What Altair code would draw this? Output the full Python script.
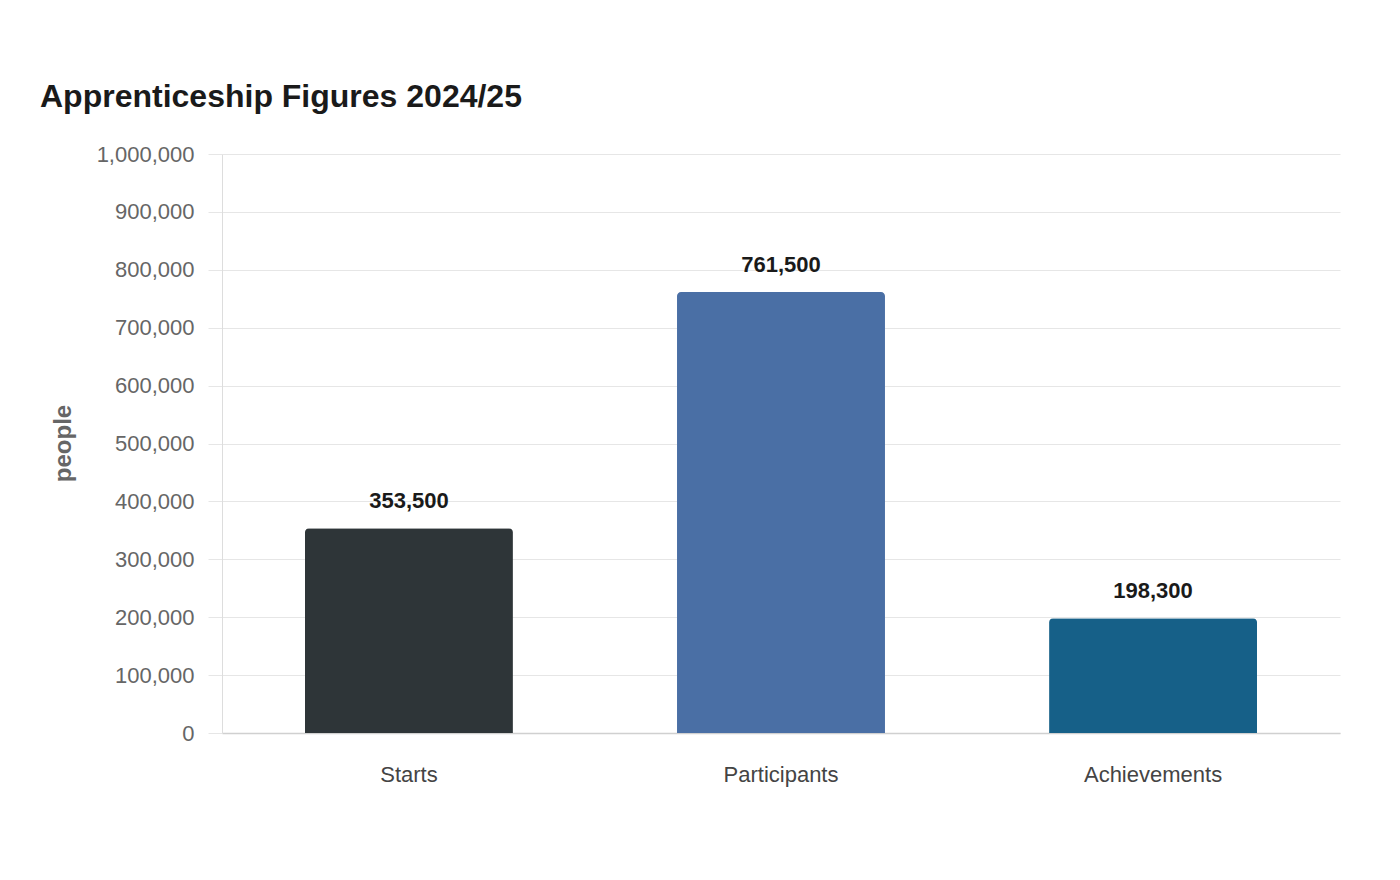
import altair as alt
import pandas as pd

# Apprenticeship headline figures, 2024/25
categories = ["Starts", "Participants", "Achievements"]
values = [353500, 761500, 198300]
colors = ["#2e3538", "#4a6fa5", "#166088"]

df = pd.DataFrame({"category": categories, "people": values})
df["label"] = df["people"].map(lambda v: f"{v:,}")

x_enc = alt.X(
    "category:N",
    sort=categories,
    title=None,
    scale=alt.Scale(paddingInner=0.441, paddingOuter=0.223),
    axis=alt.Axis(
        labelAngle=0,
        labelFontSize=22,
        labelColor="#444444",
        labelPadding=31,
        ticks=False,
        domainColor="#d0d0d0",
        domainWidth=1.5,
        grid=False,
    ),
)

y_enc = alt.Y(
    "people:Q",
    title="people",
    scale=alt.Scale(domain=[0, 1000000], nice=False),
    axis=alt.Axis(
        values=list(range(0, 1000001, 100000)),
        format=",.0f",
        labelFontSize=22,
        labelColor="#666666",
        labelPadding=14,
        tickSize=14,
        tickColor="#e6e6e6",
        domainColor="#dddddd",
        gridColor="#e6e6e6",
        titleFontSize=24,
        titleFontWeight="bold",
        titleColor="#666666",
        titleAngle=-90,
        titleAlign="center",
        titleBaseline="middle",
        titleX=-159,
        titleY=289,
    ),
)

bars = alt.Chart(df).mark_bar(
    cornerRadiusTopLeft=4, cornerRadiusTopRight=4
).encode(
    x=x_enc,
    y=y_enc,
    color=alt.Color("category:N", scale=alt.Scale(domain=categories, range=colors), legend=None),
)

labels = alt.Chart(df).mark_text(
    baseline="alphabetic", dy=-20, fontSize=22, fontWeight="bold", color="#1a1a1a"
).encode(
    x=alt.X("category:N", sort=categories),
    y=alt.Y("people:Q"),
    text="label:N",
)

chart = (
    alt.layer(bars, labels)
    .properties(
        width=1118,
        height=579,
        background="white",
        padding={"left": 222, "top": 154, "right": 60, "bottom": 147},
        autosize=alt.AutoSizeParams(type="none"),
        title=alt.TitleParams(
            "Apprenticeship Figures 2024/25",
            anchor="start",
            frame="group",
            dx=-182,
            fontSize=32,
            fontWeight="bold",
            color="#1a1a1a",
            baseline="alphabetic",
            offset=4,
        ),
    )
    .configure(font="Liberation Sans")
    .configure_view(stroke=None)
)

chart.save("out.html", embed_options={"renderer": "svg", "actions": False})
